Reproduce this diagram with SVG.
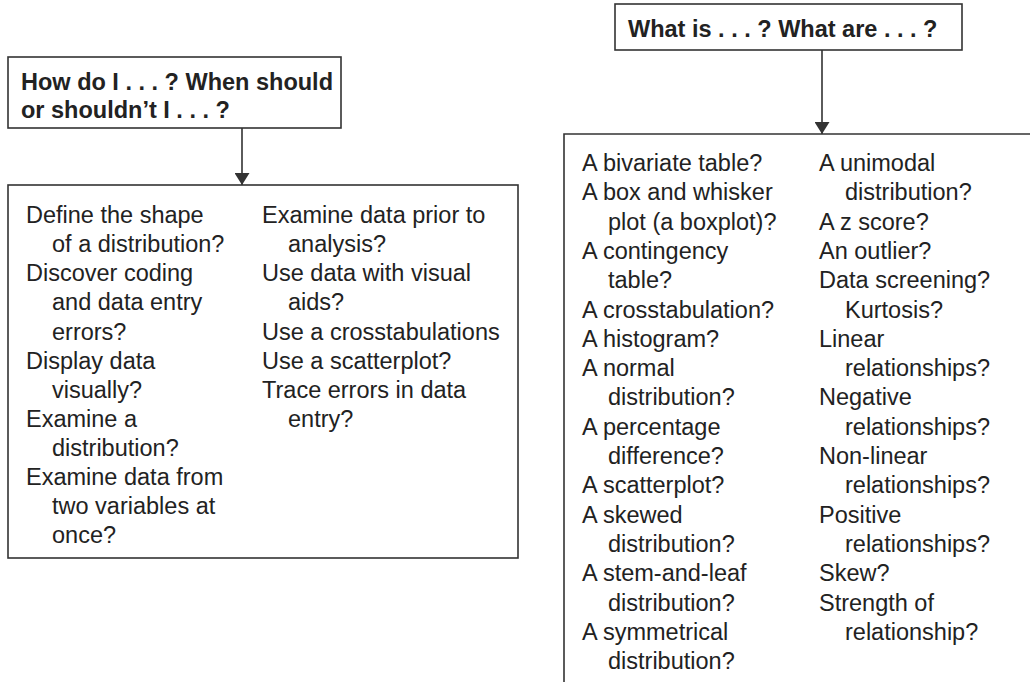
<svg xmlns="http://www.w3.org/2000/svg" width="1030" height="682" viewBox="0 0 1030 682">
<style>
.box{fill:#fff;stroke:#333;stroke-width:1.6}
.ln{fill:none;stroke:#333;stroke-width:1.6}
.hd{font-family:"Liberation Sans",Arial,sans-serif;font-weight:bold;font-size:23.5px;fill:#222}
.tx{font-family:"Liberation Sans",Arial,sans-serif;font-size:23.5px;fill:#222}
</style>
<defs>
<marker id="ah" viewBox="0 0 12 15" refX="12" refY="7.5" markerWidth="12" markerHeight="15" markerUnits="userSpaceOnUse" orient="auto">
<path d="M0,0 L12,7.5 L0,15 z" fill="#333" transform="translate(0,0)"/>
</marker>
</defs>
<rect width="1030" height="682" fill="#fff"/>
<g id="how-header">
<rect class="box" x="8" y="57" width="333" height="71"/>
<text class="hd"><tspan x="21" y="90">How do I . . . ? When should</tspan><tspan x="21" y="118">or shouldn’t I . . . ?</tspan></text>
</g>
<g id="what-header">
<rect class="box" x="615" y="4" width="347" height="46"/>
<text class="hd" x="628" y="37">What is . . . ? What are . . . ?</text>
</g>
<g id="how-list">
<rect class="box" x="8" y="185" width="510" height="373"/>
<text class="tx">
<tspan x="26" y="223">Define the shape</tspan>
<tspan x="52" y="252">of a distribution?</tspan>
<tspan x="26" y="281">Discover coding</tspan>
<tspan x="52" y="310">and data entry</tspan>
<tspan x="52" y="339.5">errors?</tspan>
<tspan x="26" y="368.5">Display data</tspan>
<tspan x="52" y="397.5">visually?</tspan>
<tspan x="26" y="426.5">Examine a</tspan>
<tspan x="52" y="456">distribution?</tspan>
<tspan x="26" y="485">Examine data from</tspan>
<tspan x="52" y="514">two variables at</tspan>
<tspan x="52" y="543">once?</tspan>
</text>
<text class="tx">
<tspan x="262" y="223">Examine data prior to</tspan>
<tspan x="288" y="252">analysis?</tspan>
<tspan x="262" y="281">Use data with visual</tspan>
<tspan x="288" y="310">aids?</tspan>
<tspan x="262" y="339.5">Use a crosstabulations</tspan>
<tspan x="262" y="368.5">Use a scatterplot?</tspan>
<tspan x="262" y="397.5">Trace errors in data</tspan>
<tspan x="288" y="426.5">entry?</tspan>
</text>
</g>
<g id="what-list">
<path class="ln" d="M1030,134 H564 V682"/>
<text class="tx">
<tspan x="582" y="171">A bivariate table?</tspan>
<tspan x="582" y="200.3">A box and whisker</tspan>
<tspan x="608" y="229.6">plot (a boxplot)?</tspan>
<tspan x="582" y="258.9">A contingency</tspan>
<tspan x="608" y="288.2">table?</tspan>
<tspan x="582" y="317.5">A crosstabulation?</tspan>
<tspan x="582" y="346.8">A histogram?</tspan>
<tspan x="582" y="376.1">A normal</tspan>
<tspan x="608" y="405.4">distribution?</tspan>
<tspan x="582" y="434.7">A percentage</tspan>
<tspan x="608" y="464">difference?</tspan>
<tspan x="582" y="493.3">A scatterplot?</tspan>
<tspan x="582" y="522.6">A skewed</tspan>
<tspan x="608" y="551.9">distribution?</tspan>
<tspan x="582" y="581.2">A stem-and-leaf</tspan>
<tspan x="608" y="610.5">distribution?</tspan>
<tspan x="582" y="639.8">A symmetrical</tspan>
<tspan x="608" y="669.1">distribution?</tspan>
</text>
<text class="tx">
<tspan x="819" y="171">A unimodal</tspan>
<tspan x="845" y="200.3">distribution?</tspan>
<tspan x="819" y="229.6">A z score?</tspan>
<tspan x="819" y="258.9">An outlier?</tspan>
<tspan x="819" y="288.2">Data screening?</tspan>
<tspan x="845" y="317.5">Kurtosis?</tspan>
<tspan x="819" y="346.8">Linear</tspan>
<tspan x="845" y="376.1">relationships?</tspan>
<tspan x="819" y="405.4">Negative</tspan>
<tspan x="845" y="434.7">relationships?</tspan>
<tspan x="819" y="464">Non-linear</tspan>
<tspan x="845" y="493.3">relationships?</tspan>
<tspan x="819" y="522.6">Positive</tspan>
<tspan x="845" y="551.9">relationships?</tspan>
<tspan x="819" y="581.2">Skew?</tspan>
<tspan x="819" y="610.5">Strength of</tspan>
<tspan x="845" y="639.8">relationship?</tspan>
</text>
</g>
<g id="connectors">
<line class="ln" x1="242" y1="128" x2="242" y2="185" marker-end="url(#ah)"/>
<line class="ln" x1="822" y1="50" x2="822" y2="134" marker-end="url(#ah)"/>
</g>
</svg>
